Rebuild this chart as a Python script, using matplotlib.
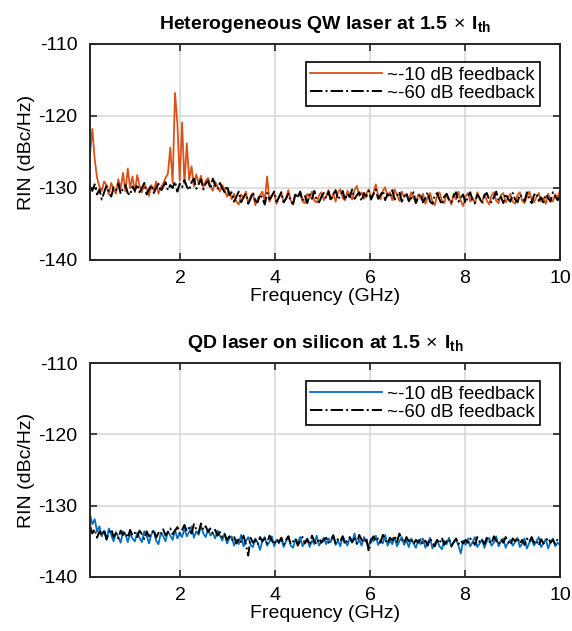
import numpy as np
import matplotlib
matplotlib.use("Agg")
import matplotlib.pyplot as plt

plt.rcParams["font.family"] = ["Liberation Sans", "DejaVu Sans"]
plt.rcParams["mathtext.fontset"] = "custom"
plt.rcParams["mathtext.rm"] = "Liberation Sans"
plt.rcParams["mathtext.bf"] = "Liberation Sans:bold"
plt.rcParams["axes.unicode_minus"] = False

# frequency grid of the traces (GHz)
freq = np.linspace(0.1, 10, 200)

# heterogeneous QW laser, RIN (dBc/Hz)
qw_fb10 = [
    -125.5, -121.8, -126.0, -128.6, -129.8, -130.4, -129.1, -129.6, -130.9, -129.3,
    -130.2, -130.8, -128.8, -130.1, -127.9, -130.5, -127.3, -130.0, -128.4, -130.6,
    -128.2, -129.7, -130.6, -129.4, -130.1, -131.1, -129.6, -130.3, -129.1, -130.8,
    -129.9, -129.4, -128.6, -128.0, -124.4, -129.3, -116.8, -121.0, -129.0, -120.9,
    -129.4, -123.8, -128.9, -127.0, -129.8, -128.1, -129.4, -128.3, -129.9, -129.0,
    -128.6, -129.7, -130.4, -129.1, -129.8, -130.5, -129.6, -130.2, -131.2, -130.4,
    -131.6, -130.8, -131.9, -132.3, -130.9, -131.4, -130.5, -132.1, -131.2, -130.7,
    -132.4, -131.5, -131.0, -130.5, -131.8, -128.4, -131.9, -131.1, -130.6, -132.2,
    -131.3, -130.6, -132.0, -131.4, -130.3, -131.7, -132.3, -130.9, -131.2, -130.6,
    -131.9, -132.1, -130.8, -131.4, -130.5, -131.8, -132.0, -131.0, -130.6, -131.7,
    -131.2, -130.3, -131.6, -130.8, -131.9, -130.6, -130.2, -131.4, -131.7, -130.4,
    -130.9, -131.6, -130.3, -129.7, -131.1, -130.6, -131.5, -130.8, -130.2, -131.3,
    -130.7, -129.5, -131.0, -131.6, -130.4, -129.9, -131.2, -130.6, -131.7, -130.2,
    -131.0, -131.8, -130.5, -131.3, -130.8, -131.9, -130.6, -131.4, -132.0, -130.9,
    -131.5, -130.8, -132.2, -131.3, -130.7, -131.9, -132.4, -131.0, -130.6, -131.7,
    -132.1, -130.9, -131.4, -132.3, -130.8, -131.6, -130.5, -131.8, -132.5, -131.2,
    -130.7, -131.9, -131.3, -132.2, -130.6, -131.5, -132.0, -130.9, -131.7, -132.3,
    -131.1, -130.6, -131.8, -132.1, -131.0, -130.7, -132.0, -131.4, -130.8, -131.9,
    -132.2, -131.0, -130.6, -131.8, -132.1, -131.2, -130.5, -131.6, -132.0, -131.3,
    -130.7, -131.9, -131.4, -132.2, -130.8, -131.5, -131.9, -130.9, -131.3, -130.3,
]
qw_fb60 = [
    -129.8, -130.4, -129.5, -130.9, -130.2, -131.6, -130.6, -129.7, -130.5, -131.2,
    -129.9, -130.3, -129.4, -130.8, -130.1, -129.6, -130.7, -131.0, -129.8, -130.4,
    -129.5, -130.6, -130.0, -129.3, -130.9, -130.2, -129.6, -130.7, -130.0, -129.4,
    -130.5, -129.8, -129.2, -130.3, -129.6, -130.0, -129.1, -130.5, -129.4, -129.9,
    -128.9, -129.8, -130.3, -129.2, -128.7, -130.1, -129.5, -128.8, -130.2, -129.4,
    -129.0, -130.1, -128.7, -129.6, -130.2, -129.3, -130.0, -130.6, -129.7, -131.0,
    -130.6, -131.9, -131.2, -130.5, -132.0, -131.3, -130.8, -132.2, -131.5, -130.6,
    -131.8, -132.0, -130.9, -131.4, -132.3, -130.7, -131.6, -131.1, -130.5, -131.9,
    -131.3, -130.6, -132.0, -131.5, -130.8, -131.9, -132.2, -130.7, -131.4, -130.5,
    -131.8, -131.1, -132.1, -130.9, -131.5, -130.4, -131.7, -132.0, -131.2, -130.7,
    -131.4, -130.5, -131.8, -130.9, -130.3, -131.6, -131.1, -130.4, -131.7, -130.8,
    -131.3, -130.2, -131.5, -131.0, -130.6, -131.8, -130.7, -131.2, -130.4, -131.6,
    -130.9, -130.2, -131.5, -131.0, -130.4, -131.7, -130.8, -131.3, -130.3, -131.6,
    -131.1, -130.5, -131.9, -131.2, -130.7, -131.8, -131.4, -130.6, -132.1, -131.3,
    -130.8, -132.0, -131.4, -130.6, -131.9, -132.2, -131.0, -130.7, -131.6, -132.3,
    -131.2, -130.8, -131.7, -132.0, -131.1, -130.6, -131.9, -131.4, -130.9, -132.1,
    -131.2, -130.6, -131.8, -132.1, -130.9, -131.4, -132.2, -131.0, -130.7, -131.6,
    -132.0, -131.3, -130.5, -131.8, -131.2, -132.1, -130.8, -131.5, -131.9, -130.7,
    -131.6, -132.0, -130.9, -131.3, -131.8, -130.6, -131.5, -132.1, -131.0, -130.7,
    -131.8, -131.3, -132.0, -130.9, -131.4, -131.9, -130.6, -131.2, -131.7, -131.1,
]

# QD laser on silicon
qd_fb10 = [
    -131.2, -132.6, -131.9, -133.6, -132.9, -134.3, -133.5, -134.8, -133.2, -134.1,
    -135.0, -133.7, -134.4, -135.2, -133.6, -134.0, -135.1, -133.9, -134.6, -135.0,
    -133.8, -134.5, -135.1, -133.6, -134.2, -135.3, -134.0, -133.5, -134.9, -135.4,
    -133.8, -134.3, -135.0, -133.6, -134.2, -134.8, -133.4, -134.6, -133.9, -134.4,
    -133.2, -134.3, -133.7, -132.9, -134.5, -133.6, -134.1, -132.8, -133.9, -134.4,
    -133.3, -134.2, -133.8, -134.6, -133.5, -134.2, -134.9, -133.9, -135.3, -134.6,
    -134.3, -135.6, -134.8, -135.4, -134.1, -135.7, -135.0, -134.4, -135.5, -135.8,
    -134.6, -135.2, -136.2, -134.9, -134.4, -135.6, -135.1, -134.3, -135.7, -134.8,
    -135.3, -134.5, -135.8, -135.0, -134.3, -135.6, -135.9, -134.7, -135.2, -134.4,
    -135.7, -135.1, -134.6, -135.8, -134.9, -135.4, -134.2, -135.6, -135.0, -134.5,
    -135.4, -134.6, -135.1, -134.1, -135.5, -134.9, -135.7, -134.3, -135.0, -135.6,
    -134.5, -135.2, -133.9, -135.4, -134.8, -135.6, -134.4, -135.1, -135.7, -134.6,
    -135.0, -134.2, -135.5, -134.8, -135.3, -134.1, -135.6, -134.9, -135.4, -134.5,
    -135.7, -135.0, -134.4, -135.5, -134.9, -135.8, -134.6, -135.3, -135.9, -134.8,
    -135.4, -134.6, -135.9, -135.2, -134.5, -136.0, -135.3, -134.8, -135.7, -136.1,
    -134.9, -135.4, -134.5, -135.8, -135.2, -134.7, -135.6, -136.7, -134.9, -135.5,
    -134.6, -135.7, -135.1, -134.4, -135.8, -135.3, -134.7, -135.9, -135.0, -134.5,
    -135.6, -135.2, -134.3, -135.7, -135.0, -134.6, -135.9, -135.2, -134.8, -135.6,
    -135.1, -134.5, -135.8, -135.3, -134.6, -136.0, -135.2, -134.7, -135.6, -135.0,
    -134.4, -135.8, -135.3, -134.7, -136.0, -135.1, -134.6, -135.7, -135.2, -135.5,
]
qd_fb60 = [
    -132.8, -133.9, -133.3, -134.5, -133.6, -134.2, -133.4, -134.7, -133.8, -133.3,
    -134.4, -133.9, -134.6, -133.5, -134.1, -133.7, -134.5, -133.4, -134.2, -133.8,
    -134.4, -133.5, -134.0, -134.7, -133.6, -134.3, -133.9, -133.4, -134.5, -133.8,
    -134.1, -133.3, -134.2, -133.7, -133.2, -134.0, -133.5, -133.0, -133.9, -133.4,
    -132.7, -133.6, -133.1, -133.9, -132.6, -133.3, -133.8, -132.5, -133.4, -132.9,
    -133.7, -133.2, -133.9, -133.4, -134.2, -133.7, -134.4, -134.0, -134.8, -134.3,
    -134.9, -134.3, -135.3, -134.6, -135.1, -134.2, -135.4, -137.0, -134.5, -135.2,
    -134.8, -135.5, -134.4, -135.0, -134.6, -135.3, -134.2, -134.9, -135.4, -134.7,
    -135.1, -134.5, -135.5, -134.8, -134.3, -135.4, -135.0, -134.6, -135.6, -134.9,
    -134.4, -135.3, -134.7, -135.5, -134.2, -135.0, -135.4, -134.6, -135.2, -134.8,
    -134.5, -135.2, -134.8, -134.2, -135.3, -134.7, -135.0, -134.3, -135.4, -134.9,
    -134.4, -135.1, -134.6, -135.3, -134.1, -134.8, -135.2, -134.5, -136.4, -134.9,
    -134.3, -135.0, -134.6, -135.2, -134.1, -134.8, -135.3, -134.5, -134.9, -134.2,
    -135.1, -133.9, -134.7, -135.2, -134.4, -135.0, -134.6, -135.4, -134.8, -135.2,
    -134.7, -135.4, -134.9, -135.6, -134.6, -135.2, -135.7, -134.8, -135.3, -134.5,
    -135.5, -135.0, -134.7, -135.6, -135.1, -134.6, -135.4, -134.9, -135.3, -134.8,
    -135.2, -134.6, -135.0, -135.5, -134.4, -135.1, -134.8, -135.4, -134.5, -135.0,
    -135.3, -134.3, -134.9, -135.4, -134.7, -135.2, -134.4, -135.0, -135.5, -134.6,
    -135.0, -134.5, -135.3, -134.8, -135.5, -134.6, -135.1, -134.4, -135.2, -134.9,
    -135.6, -134.7, -135.3, -134.9, -134.5, -135.2, -134.8, -135.4, -134.7, -135.1,
]

labels = ["~-10 dB feedback", "~-60 dB feedback"]
orange = "#D95319"
blue = "#0072BD"

fig = plt.figure(figsize=(5.72, 6.31), dpi=100)
ax1 = fig.add_axes([0.1573, 0.5880, 0.8217, 0.3423])
ax2 = fig.add_axes([0.1573, 0.0856, 0.8217, 0.3391])

panels = [
    (ax1, qw_fb10, qw_fb60, orange, "Heterogeneous QW laser at 1.5$\\,\\times\\,$I$_{\\bf th}$"),
    (ax2, qd_fb10, qd_fb60, blue, "QD laser on silicon at 1.5$\\,\\times\\,$I$_{\\bf th}$"),
]

for ax, fb10, fb60, col, title in panels:
    ax.plot(freq, fb10, color=col, lw=1.3, label=labels[0])
    ax.plot(freq, fb60, color="black", lw=1.4, ls="-.", label=labels[1])
    ax.set_xlim(0.1, 10)
    ax.set_ylim(-140, -110)
    ax.set_xticks([2, 4, 6, 8, 10])
    ax.set_yticks([-140, -130, -120, -110])
    ax.grid(True, color="#d6d6d6", lw=1.1)
    ax.set_axisbelow(True)
    ax.tick_params(direction="in", top=True, right=True, labelsize=14,
                   length=5, width=1.2, color="#262626")
    ax.tick_params(axis="x", pad=7)
    ax.tick_params(axis="y", pad=9)
    for s in ax.spines.values():
        s.set_linewidth(1.4)
        s.set_color("#262626")
    ax.set_xlabel("Frequency (GHz)", fontsize=14, labelpad=1)
    ax.set_ylabel("RIN (dBc/Hz)", fontsize=14, labelpad=2)
    ax.set_title(title, fontsize=14, fontweight="bold", pad=11)
    leg = ax.legend(loc="upper right", bbox_to_anchor=(0.957, 0.917), fontsize=13.5,
                    handlelength=3.8, handletextpad=0.3, labelspacing=0.05,
                    borderpad=0.25, borderaxespad=0, fancybox=False, framealpha=1)
    leg.get_frame().set_edgecolor("black")
    leg.get_frame().set_linewidth(1.2)

fig.savefig("out.png", dpi=100)
